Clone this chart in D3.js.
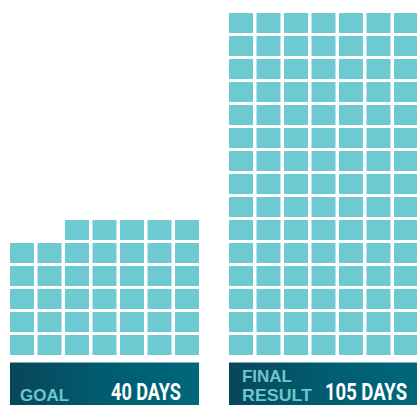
<!DOCTYPE html>
<html>
<head>
<meta charset="utf-8">
<script src="https://cdn.jsdelivr.net/npm/d3@7"></script>
<style>
html,body{margin:0;padding:0;background:#fff;}
svg{display:block;}
</style>
</head>
<body>
<svg id="chart" width="417" height="405"></svg>
<script>
// ---- data ----
const categories = ["GOAL", "FINAL RESULT"];
const labelLines = [["GOAL"], ["FINAL", "RESULT"]];
const values = [40, 105];
const valueLabels = ["40 DAYS", "105 DAYS"];
const columnsPerRow = 7;

// ---- layout ----
const svg = d3.select("#chart");
const W = 417, H = 405;
const cellColor = "#6dcad0";

const defs = svg.append("defs");
const grad = defs.append("linearGradient").attr("id", "boxGrad")
  .attr("x1", "0%").attr("y1", "0%").attr("x2", "100%").attr("y2", "0%");
grad.append("stop").attr("offset", "0%").attr("stop-color", "#0a465a");
grad.append("stop").attr("offset", "55%").attr("stop-color", "#005e72");
grad.append("stop").attr("offset", "100%").attr("stop-color", "#00687b");

// group scale
const gx = d3.scaleBand().domain(categories).range([10, 418]).paddingInner(30 / 219);
// column scale within group (relative)
const cx = d3.scaleBand().domain(d3.range(columnsPerRow)).range([0, gx.bandwidth()]).paddingInner(3.5 / 27.5);
// row scale: row 0 at bottom
const ry = d3.scaleLinear().domain([0, 1]).range([335, 312]);
const cellH = 20;

categories.forEach((cat, gi) => {
  const g = svg.append("g").attr("transform", `translate(${gx(cat)},0)`);
  const n = values[gi];
  const cells = d3.range(n).map(i => {
    const row = Math.floor(i / columnsPerRow);
    const col = columnsPerRow - 1 - (i % columnsPerRow);
    return { row, col };
  });
  g.selectAll("rect.cell").data(cells).join("rect")
    .attr("class", "cell")
    .attr("x", d => cx(d.col))
    .attr("y", d => ry(d.row))
    .attr("width", cx.bandwidth())
    .attr("height", cellH)
    .attr("fill", cellColor);

  // label box
  g.append("rect")
    .attr("x", 0).attr("y", 362.5)
    .attr("width", gx.bandwidth()).attr("height", H - 362.5)
    .attr("fill", "url(#boxGrad)");
});

// category labels
const lblSpecs = [
  [{ x: 20, y: 400.5, w: 49 }],
  [{ x: 242, y: 381.5, w: 50 }, { x: 242, y: 400.5, w: 70 }]
];
labelLines.forEach((lines, gi) => {
  lines.forEach((t, li) => {
    const s = lblSpecs[gi][li];
    svg.append("text")
      .attr("x", s.x).attr("y", s.y)
      .attr("font-family", "'Liberation Sans', Arial, sans-serif")
      .attr("font-weight", "bold")
      .attr("font-size", 16.5)
      .attr("textLength", s.w)
      .attr("lengthAdjust", "spacingAndGlyphs")
      .attr("fill", "#6cc6cc")
      .text(t);
  });
});

// value labels (start-anchored, explicit width)
const valSpecs = [
  { x: 111, y: 399.5, w: 70, size: 24.5 },
  { x: 325, y: 399.5, w: 82, size: 24.5 }
];
valueLabels.forEach((t, gi) => {
  const s = valSpecs[gi];
  svg.append("text")
    .attr("x", s.x).attr("y", s.y)
    .attr("font-family", "'Liberation Sans Narrow', 'Roboto', 'DejaVu Sans Condensed', sans-serif")
    .attr("font-weight", "bold")
    .attr("font-size", s.size)
    .attr("textLength", s.w)
    .attr("lengthAdjust", "spacingAndGlyphs")
    .attr("fill", "#ffffff")
    .text(t);
});
</script>
</body>
</html>
